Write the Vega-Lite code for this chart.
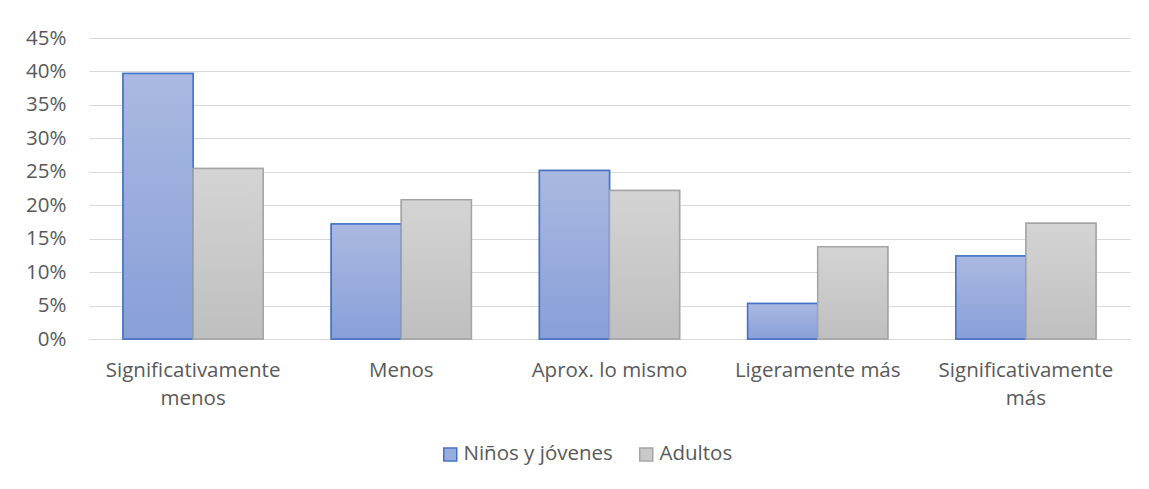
{
  "$schema": "https://vega.github.io/schema/vega-lite/v6.json",
  "autosize": {"type": "none"},
  "width": 1041,
  "height": 301,
  "padding": {"left": 89, "top": 38, "right": 19, "bottom": 150},
  "background": "white",
  "config": {
    "view": {"stroke": null},
    "font": "Open Sans",
    "axis": {"labelFont": "Open Sans", "labelColor": "#595959", "labelFontSize": 20.5},
    "legend": {"labelFont": "Open Sans", "labelColor": "#595959", "labelFontSize": 20.5}
  },
  "data": {
    "values": [
      {"cat": "Significativamente|menos", "series": "Niños y jóvenes", "value": 0.397},
      {"cat": "Significativamente|menos", "series": "Adultos", "value": 0.255},
      {"cat": "Menos", "series": "Niños y jóvenes", "value": 0.172},
      {"cat": "Menos", "series": "Adultos", "value": 0.208},
      {"cat": "Aprox. lo mismo", "series": "Niños y jóvenes", "value": 0.252},
      {"cat": "Aprox. lo mismo", "series": "Adultos", "value": 0.222},
      {"cat": "Ligeramente más", "series": "Niños y jóvenes", "value": 0.053},
      {"cat": "Ligeramente más", "series": "Adultos", "value": 0.138},
      {"cat": "Significativamente|más", "series": "Niños y jóvenes", "value": 0.124},
      {"cat": "Significativamente|más", "series": "Adultos", "value": 0.173}
    ]
  },
  "encoding": {
    "x": {
      "field": "cat",
      "type": "nominal",
      "sort": ["Significativamente|menos", "Menos", "Aprox. lo mismo", "Ligeramente más", "Significativamente|más"],
      "scale": {"paddingInner": 0.327, "paddingOuter": 0.1635},
      "axis": {
        "title": null,
        "labelAngle": 0,
        "labelExpr": "split(datum.label, '|')",
        "labelLineHeight": 28,
        "labelPadding": 21,
        "ticks": false,
        "domainColor": "#d9d9d9",
        "domainWidth": 1,
        "labelBaseline": "top"
      }
    },
    "xOffset": {"field": "series", "type": "nominal", "sort": ["Niños y jóvenes", "Adultos"], "scale": {"paddingInner": 0, "paddingOuter": 0}},
    "y": {
      "field": "value",
      "type": "quantitative",
      "scale": {"domain": [0, 0.45], "nice": false},
      "axis": {
        "title": null,
        "format": ".0%",
        "values": [0, 0.05, 0.1, 0.15, 0.2, 0.25, 0.3, 0.35, 0.4, 0.45],
        "domain": false,
        "ticks": false,
        "labelPadding": 23,
        "gridColor": "#d9d9d9",
        "gridWidth": 1
      }
    }
  },
  "layer": [
    {
      "mark": {"type": "bar", "strokeWidth": 1.5, "fillOpacity": 1},
      "encoding": {
        "fill": {
          "field": "series",
          "type": "nominal",
          "sort": ["Niños y jóvenes", "Adultos"],
          "scale": {"domain": ["Niños y jóvenes", "Adultos"], "range": ["#98ADDD", "#C9C9C9"]},
          "legend": {
            "title": null,
            "orient": "none",
            "legendX": 351,
            "legendY": 406,
            "padding": 0,
            "direction": "horizontal",
            "symbolType": "square",
            "symbolSize": 169,
            "symbolStrokeWidth": 1.5,
            "symbolOpacity": 1,
            "columnPadding": 23,
            "labelOffset": 3
          }
        },
        "stroke": {
          "field": "series",
          "type": "nominal",
          "sort": ["Niños y jóvenes", "Adultos"],
          "scale": {"domain": ["Niños y jóvenes", "Adultos"], "range": ["#4472C4", "#A5A5A5"]},
          "legend": {
            "title": null,
            "orient": "none",
            "legendX": 351,
            "legendY": 406,
            "padding": 0,
            "direction": "horizontal",
            "symbolType": "square",
            "symbolSize": 169,
            "symbolStrokeWidth": 1.5,
            "columnPadding": 23,
            "labelOffset": 3
          }
        }
      }
    },
    {
      "mark": {"type": "bar", "strokeWidth": 1.5},
      "encoding": {
        "stroke": {"field": "series", "type": "nominal", "legend": null},
        "fill": {
          "condition": {
            "test": "datum.series === 'Adultos'",
            "value": {"gradient": "linear", "x1": 0, "y1": 0, "x2": 0, "y2": 1, "stops": [{"offset": 0, "color": "#D4D4D4"}, {"offset": 1, "color": "#BFBFBF"}]}
          },
          "value": {"gradient": "linear", "x1": 0, "y1": 0, "x2": 0, "y2": 1, "stops": [{"offset": 0, "color": "#AAB9E1"}, {"offset": 1, "color": "#889FD8"}]}
        }
      }
    }
  ]
}
